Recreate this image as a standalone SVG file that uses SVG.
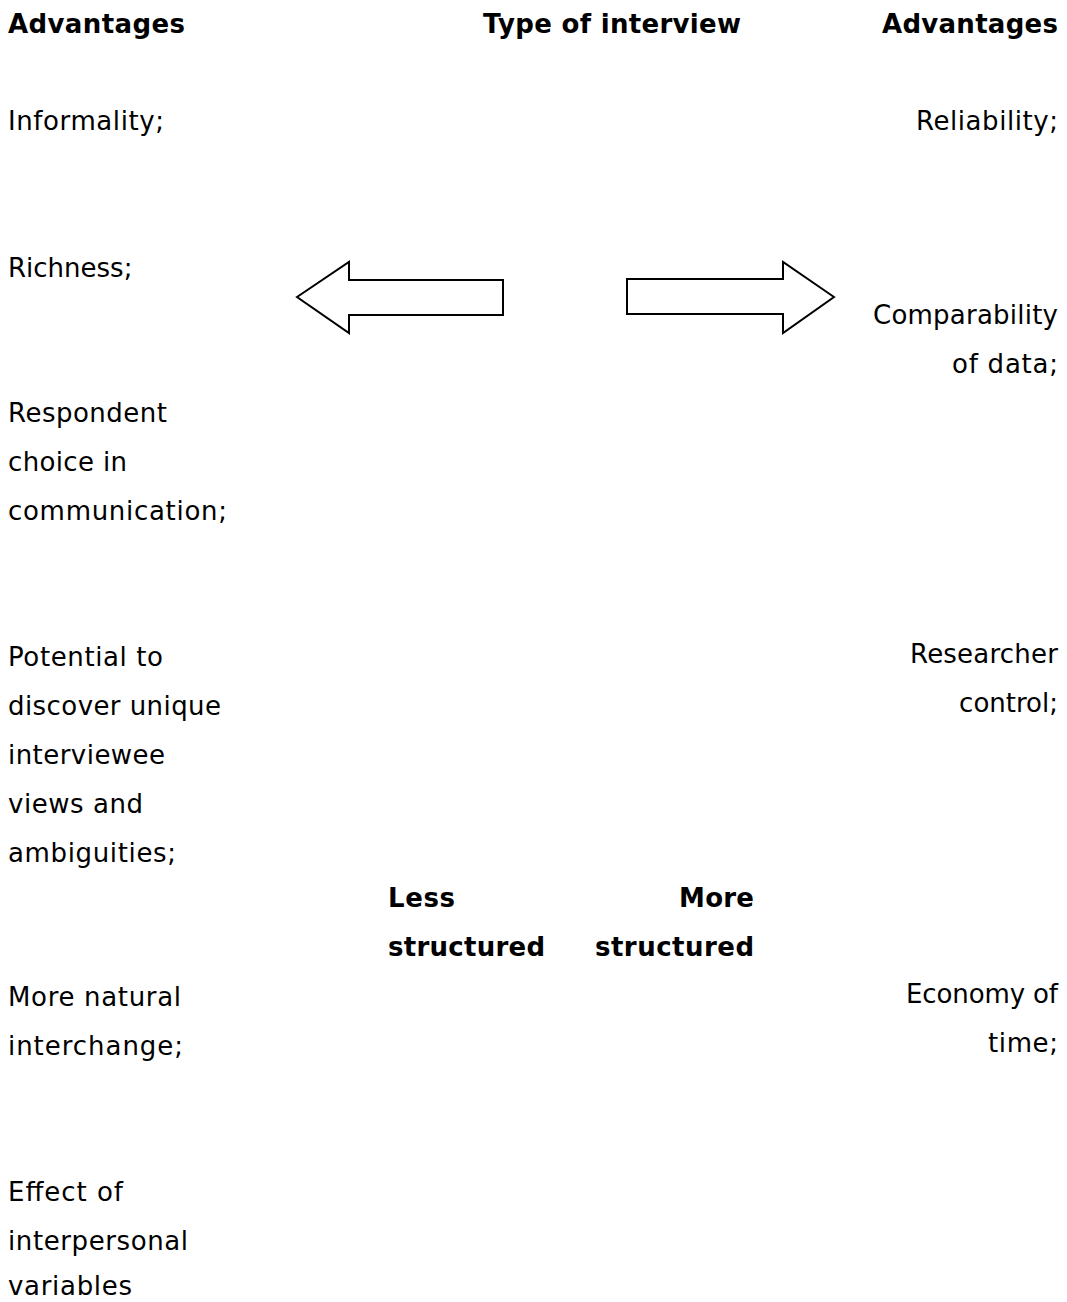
<svg xmlns="http://www.w3.org/2000/svg" width="1067" height="1302" viewBox="0 0 1067 1302">
<style>
text{font-family:"DejaVu Sans","Liberation Sans",sans-serif;font-size:26px;fill:#000}
.b{font-weight:bold}
.r{text-anchor:end}
.arrow{fill:#fff;stroke:#000;stroke-width:2;stroke-linejoin:miter}
</style>
<rect width="1067" height="1302" fill="#fff"/>
<g id="headers">
<text class="b" x="8" y="33" textLength="177">Advantages</text>
<text class="b" x="612" y="33" text-anchor="middle" textLength="258">Type of interview</text>
<text class="b r" x="1058" y="33" textLength="176">Advantages</text>
</g>
<g id="left-advantages">
<text x="8" y="130" textLength="156">Informality;</text>
<text x="8" y="277">Richness;</text>
<text x="8" y="422" textLength="159">Respondent</text>
<text x="8" y="471" textLength="119">choice in</text>
<text x="8" y="520" textLength="219">communication;</text>
<text x="8" y="666" textLength="155">Potential to</text>
<text x="8" y="715" textLength="213">discover unique</text>
<text x="8" y="764" textLength="157">interviewee</text>
<text x="8" y="813" textLength="135">views and</text>
<text x="8" y="862" textLength="168">ambiguities;</text>
<text x="8" y="1006" textLength="173">More natural</text>
<text x="8" y="1055" textLength="175">interchange;</text>
<text x="8" y="1201" textLength="115">Effect of</text>
<text x="8" y="1250" textLength="180">interpersonal</text>
<text x="8" y="1295" textLength="124">variables</text>
</g>
<g id="right-advantages">
<text class="r" x="1058" y="130" textLength="142">Reliability;</text>
<text class="r" x="1058" y="324" textLength="185">Comparability</text>
<text class="r" x="1058" y="373" textLength="106">of data;</text>
<text class="r" x="1058" y="663" textLength="148">Researcher</text>
<text class="r" x="1058" y="712">control;</text>
<text class="r" x="1058" y="1003" textLength="152">Economy of</text>
<text class="r" x="1058" y="1052" textLength="70">time;</text>
</g>
<g id="connectors">
<polygon id="arrow-less" class="arrow" points="297,297 349,262 349,280 503,280 503,315 349,315 349,333"/>
<polygon id="arrow-more" class="arrow" points="834,297 783,262 783,279 627,279 627,314 783,314 783,333"/>
</g>
<g id="labels">
<text class="b" x="388" y="907" textLength="67">Less</text>
<text class="b" x="388" y="956" textLength="157">structured</text>
<text class="b r" x="754" y="907" textLength="75">More</text>
<text class="b r" x="754" y="956" textLength="159">structured</text>
</g>
</svg>
